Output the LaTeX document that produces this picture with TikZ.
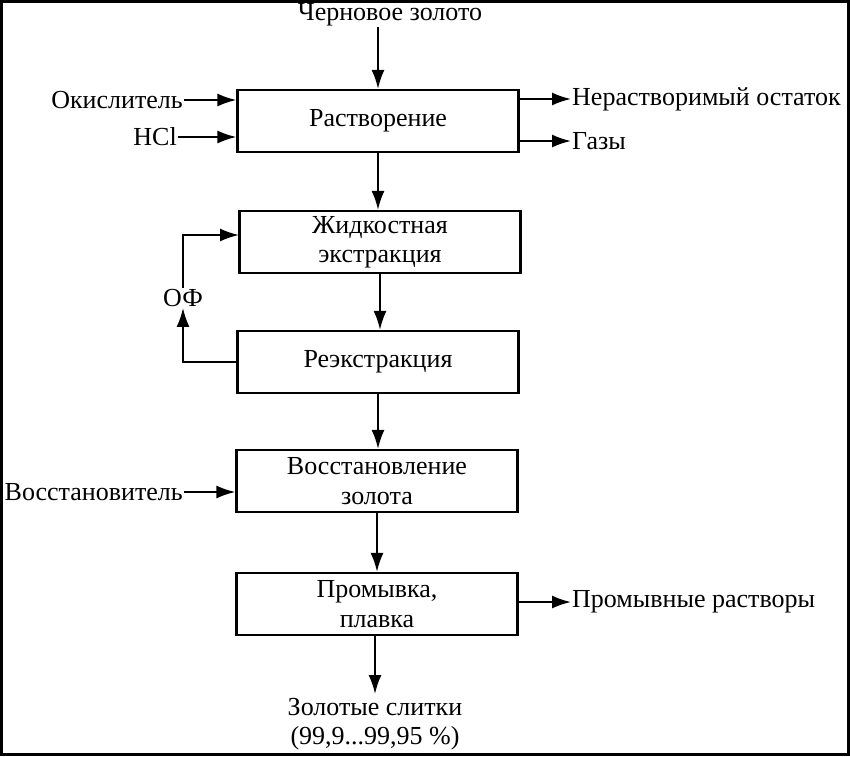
\documentclass[tikz,border=0pt]{standalone}
\usepackage{fontspec}
\setmainfont{Liberation Serif}
\usetikzlibrary{arrows.meta}
\tikzset{
  stage/.style={draw, line width=2.2pt, minimum width=281pt, minimum height=62pt, align=center, inner sep=2pt},
  label/.style={inner sep=1pt},
  flow/.style={line width=2pt, -{Latex[length=19pt,width=13pt]}},
}

\begin{document}
\begin{tikzpicture}[x=1pt, y=-1pt, font=\fontsize{26}{29.5}\selectfont]
		%%%%% START %%%%%
		\useasboundingbox (0,0) rectangle (850,756);
		\draw[line width=3pt] (1.5,1.5) rectangle (848.5,754.5);
		
		\node[stage] (rast) at (378,121) {Растворение};
		\node[stage] (zhid) at (380,242) {Жидкостная\\экстракция};
		\node[stage] (reex) at (378,362) {Реэкстракция};
		\node[stage] (vosst) at (377,481) {Восстановление\\золота};
		\node[stage] (prom) at (377,604) {Промывка,\\плавка};
		
		\node[label, anchor=base] (cher) at (390,20) {Черновое золото};
		\node[label, anchor=east] (okis) at (184,100) {Окислитель};
		\node[label, anchor=east] (hcl) at (178,137) {HCl};
		\node[label, anchor=west] (ost) at (571,99) {Нерастворимый остаток};
		\node[label, anchor=west] (gaz) at (571,141) {Газы};
		\node[label] (of) at (183,298) {ОФ};
		\node[label, anchor=east] (vost) at (184,492) {Восстановитель};
		\node[label, anchor=west] (rastv) at (571,602) {Промывные растворы};
		\node[label, align=center, anchor=north] (slit) at (375,697) {Золотые слитки\\(99,9...99,95~\%)};
		
		\coordinate (zin) at (239,235);
		
		\draw[flow] (rast.north |- cher.south) -- (rast.north);
		\draw[flow] (okis) -- (okis -| rast.west);
		\draw[flow] (hcl) -- (hcl -| rast.west);
		\draw[flow] (ost.west -| rast.east) -- (ost.west);
		\draw[flow] (gaz.west -| rast.east) -- (gaz.west);
		
		\draw[flow] (rast) -- (rast |- zhid.north);
		\draw[flow] (zhid) -- (zhid |- reex.north);
		\draw[flow] (reex.west) -| (of.south);
		\draw[flow] (of.north) |- (zin);
		\draw[flow] (reex) -- (reex |- vosst.north);
		\draw[flow] (vost) -- (vost -| vosst.west);
		
		\draw[flow] (vosst) -- (vosst |- prom.north);
		\draw[flow] (rastv.west -| prom.east) -- (rastv.west);
		\draw[flow] (prom.south -| slit.north) -- ([yshift=3pt]slit.north);
		%%%%% END %%%%%
\end{tikzpicture}
\end{document}
